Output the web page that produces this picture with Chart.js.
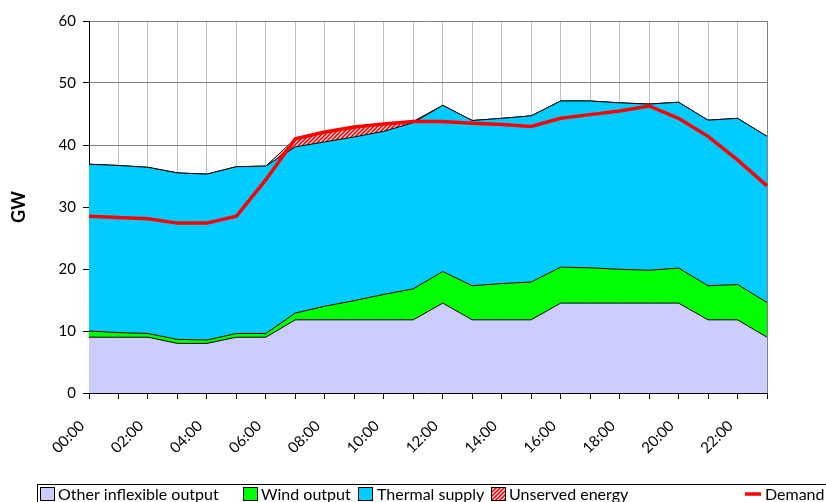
<!DOCTYPE html>
<html><head><meta charset="utf-8">
<script src="https://cdn.jsdelivr.net/npm/chart.js@4/dist/chart.umd.min.js"></script>
<style>html,body{margin:0;padding:0;background:#fff}#wrap{width:826px;height:502px;position:relative}</style>
</head><body><div id="wrap"><canvas id="c" width="826" height="502"></canvas></div>
<script>
// ---- data ----
const hours = ['00:00','01:00','02:00','03:00','04:00','05:00','06:00','07:00','08:00','09:00','10:00','11:00',
               '12:00','13:00','14:00','15:00','16:00','17:00','18:00','19:00','20:00','21:00','22:00','23:00'];
const inflexible = [9, 9, 9, 8, 8, 9, 9, 11.8, 11.8, 11.8, 11.8, 11.8, 14.5, 11.8, 11.8, 11.8, 14.5, 14.5, 14.5, 14.5, 14.5, 11.8, 11.8, 9];
const wind = [1.0, 0.75, 0.6, 0.65, 0.55, 0.6, 0.6, 1.1, 2.2, 3.1, 4.1, 5.0, 5.1, 5.5, 5.85, 6.1, 5.8, 5.7, 5.45, 5.3, 5.65, 5.5, 5.7, 5.6];
const thermal = [26.9, 26.95, 26.8, 26.85, 26.75, 26.9, 27.0, 26.8, 26.5, 26.4, 26.3, 26.8, 26.8, 26.65, 26.65, 26.8, 26.8, 26.9, 26.85, 26.8, 26.75, 26.7, 26.8, 26.8];
const unserved = [0, 0, 0, 0, 0, 0, 0, 1.3, 1.6, 1.6, 1.2, 0.2, 0, 0, 0, 0, 0, 0, 0, 0, 0, 0, 0, 0];
const demand = [28.5, 28.3, 28.1, 27.4, 27.4, 28.5, 34.4, 41.0, 42.1, 42.9, 43.4, 43.8, 43.8, 43.5, 43.3, 43.0, 44.3, 44.9, 45.5, 46.3, 44.3, 41.4, 37.6, 33.4];
const yTicks = [0, 10, 20, 30, 40, 50, 60];
const seriesNames = ['Other inflexible output', 'Wind output', 'Thermal supply', 'Unserved energy', 'Demand'];

// ---- style ----
const FONT = 'Lato';
function makeHatch() {
  const c = document.createElement('canvas'); c.width = 4; c.height = 4;
  const g = c.getContext('2d');
  g.fillStyle = '#ffffff'; g.fillRect(0, 0, 4, 4);
  g.strokeStyle = '#ff0000'; g.lineWidth = 1.6;
  g.beginPath();
  g.moveTo(-1, 5); g.lineTo(5, -1);
  g.moveTo(-1, 1); g.lineTo(1, -1);
  g.moveTo(3, 5); g.lineTo(5, 3);
  g.stroke();
  return g.createPattern(c, 'repeat');
}
const hatch = makeHatch();

const LEG = { x: 37, y: 484, w: 820, h: 30, box: 15, font: 16, items: [40, 243, 358, 491, 745], texts: [58, 261, 377, 509, 765] };

const boxLegend = {
  id: 'boxLegend',
  afterDraw(chart) {
    const ctx = chart.ctx;
    ctx.save();
    ctx.strokeStyle = '#000'; ctx.lineWidth = 1;
    ctx.strokeRect(LEG.x + 0.5, LEG.y + 0.5, LEG.w, LEG.h);
    ctx.font = LEG.font + 'px ' + FONT;
    ctx.textBaseline = 'middle';
    const cy = LEG.y + 10;
    chart.data.datasets.forEach((ds, k) => {
      const x = LEG.items[k];
      if (ds.stack === 'demand') {
        ctx.strokeStyle = ds.borderColor; ctx.lineWidth = 3.5;
        ctx.beginPath(); ctx.moveTo(x, cy); ctx.lineTo(x + 16, cy); ctx.stroke();
      } else {
        ctx.fillStyle = ds.backgroundColor;
        ctx.fillRect(x, cy - 7, LEG.box, LEG.box - 1);
        ctx.strokeStyle = '#000'; ctx.lineWidth = 1;
        ctx.strokeRect(x + 0.5, cy - 7 + 0.5, LEG.box - 1, LEG.box - 2);
      }
      ctx.fillStyle = '#000';
      ctx.fillText(ds.label, LEG.texts[k], cy + 1);
    });
    ctx.restore();
  }
};

const areaCommon = { fill: '-1', borderColor: '#000', borderWidth: 1, pointRadius: 0, tension: 0, stack: 'supply', order: 1 };

new Chart(document.getElementById('c'), {
  type: 'line',
  data: {
    labels: hours,
    datasets: [
      Object.assign({}, areaCommon, { label: seriesNames[0], data: inflexible, backgroundColor: '#ccccff', fill: 'origin' }),
      Object.assign({}, areaCommon, { label: seriesNames[1], data: wind, backgroundColor: '#00ff00' }),
      Object.assign({}, areaCommon, { label: seriesNames[2], data: thermal, backgroundColor: '#00ccff' }),
      Object.assign({}, areaCommon, { label: seriesNames[3], data: unserved, backgroundColor: hatch }),
      { label: seriesNames[4], data: demand, borderColor: '#ff0000', backgroundColor: '#ff0000', borderWidth: 3.5,
        pointRadius: 0, tension: 0, fill: false, stack: 'demand', order: 0 }
    ]
  },
  options: {
    responsive: false,
    animation: false,
    devicePixelRatio: 1,
    layout: { padding: { top: 21, right: 59, left: 0, bottom: 0 } },
    plugins: { legend: { display: false }, tooltip: { enabled: false } },
    scales: {
      x: {
        type: 'category',
        offset: false,
        grid: { offset: false, color: c => (c.index === hours.length - 1 ? '#808080' : '#c0c0c0'), lineWidth: 1,
                tickColor: '#000', tickLength: 6 },
        border: { color: '#000', width: 1 },
        ticks: { autoSkip: false, maxRotation: 45, minRotation: 45, padding: 18, labelOffset: -7, color: '#000',
                 font: { family: FONT, size: 15 },
                 callback: (v, i) => (i % 2 === 0 ? hours[i] : '') },
        afterFit: s => { s.height = 109; }
      },
      y: {
        stacked: true,
        min: yTicks[0], max: yTicks[yTicks.length - 1],
        grid: { color: '#808080', lineWidth: 1, tickColor: '#000', tickLength: 6 },
        border: { color: '#000', width: 1 },
        ticks: { stepSize: 10, padding: 7, color: '#000', font: { family: FONT, size: 15 } },
        title: { display: true, text: 'GW', color: '#000', font: { family: FONT, size: 18, weight: 'bold' }, padding: { top: 8, bottom: 0 } },
        afterFit: s => { s.width = 89; }
      }
    }
  },
  plugins: [boxLegend]
});
</script>
</body></html>
